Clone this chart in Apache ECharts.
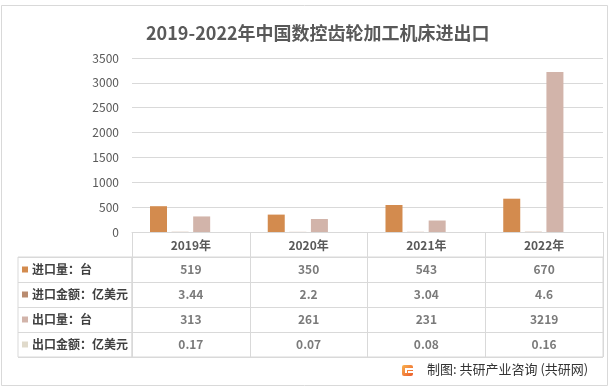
<!DOCTYPE html>
<html>
<head>
<meta charset="utf-8">
<script src="https://cdn.jsdelivr.net/npm/echarts@6/dist/echarts.min.js"></script>
<style>html,body{margin:0;padding:0;background:#fff}#c{width:612px;height:390px}</style>
</head>
<body>
<div id="c"></div>
<script>
var title = '2019-2022年中国数控齿轮加工机床进出口';
var years = ['2019年', '2020年', '2021年', '2022年'];
var seriesNames = ['进口量：台', '进口金额：亿美元', '出口量：台', '出口金额：亿美元'];
var importQty = [519, 350, 543, 670];
var importAmt = [3.44, 2.2, 3.04, 4.6];
var exportQty = [313, 261, 231, 3219];
var exportAmt = [0.17, 0.07, 0.08, 0.16];
var yTicks = [0, 500, 1000, 1500, 2000, 2500, 3000, 3500];
var source = '制图: 共研产业咨询 (共研网)';

var colors = ['#D38B4E', '#B98C70', '#D2B4AA', '#E0DACB'];
var allSeries = [importQty, importAmt, exportQty, exportAmt];
var FONT = '"Noto Sans CJK SC", "Microsoft YaHei", sans-serif';
var GRID_COLOR = '#D9D9D9';

var cellData = [];
allSeries.forEach(function (arr, r) {
  arr.forEach(function (v, c) { cellData.push([c, r, String(v)]); });
});

var rich = {};
colors.forEach(function (col, i) {
  rich['s' + i] = { width: 6, height: 6, backgroundColor: col };
});
rich.t = { fontSize: 12, color: '#404040', fontWeight: 'bold', fontFamily: FONT, padding: [0, 0, 0, 4] };

var chart = echarts.init(document.getElementById('c'), null, { renderer: 'canvas' });
var option = {
  backgroundColor: '#fff',
  animation: false,
  title: {
    text: title, left: 141, top: 19,
    textStyle: { fontSize: 18, fontWeight: 'bold', color: '#595959', fontFamily: FONT }
  },
  grid: [
    { left: 132, right: 9, top: 58, height: 174 },
    { left: 132, right: 9, top: 257, height: 100, show: true, borderColor: GRID_COLOR, borderWidth: 1 },
    { left: 18, width: 114, top: 257, height: 100, show: true, borderColor: GRID_COLOR, borderWidth: 1 }
  ],
  xAxis: [
    {
      gridIndex: 0, type: 'category', data: years,
      axisLine: { show: true, lineStyle: { color: GRID_COLOR } },
      axisTick: { show: true, length: 25, lineStyle: { color: GRID_COLOR } },
      axisLabel: { margin: 7, fontSize: 12, fontWeight: 'bold', color: '#595959', fontFamily: FONT }
    },
    {
      gridIndex: 1, type: 'category', data: years,
      axisLine: { show: false }, axisTick: { show: false }, axisLabel: { show: false },
      splitLine: { show: true, lineStyle: { color: GRID_COLOR } }
    },
    {
      gridIndex: 2, type: 'category', data: [''],
      axisLine: { show: false }, axisTick: { show: false }, axisLabel: { show: false }
    }
  ],
  yAxis: [
    {
      gridIndex: 0, type: 'value', min: 0, max: 3500, interval: 500,
      axisLine: { show: false }, axisTick: { show: false },
      axisLabel: { margin: 13, fontSize: 12, color: '#595959', fontFamily: FONT,
        formatter: function (v) { return yTicks.indexOf(v) >= 0 ? String(v) : ''; } },
      splitLine: { lineStyle: { color: GRID_COLOR } }
    },
    {
      gridIndex: 1, type: 'category', data: seriesNames, inverse: true,
      axisLine: { show: false }, axisTick: { show: false }, axisLabel: { show: false },
      splitLine: { show: true, lineStyle: { color: GRID_COLOR } }
    },
    {
      gridIndex: 2, type: 'category', data: seriesNames, inverse: true,
      axisLine: { show: false }, axisTick: { show: false },
      splitLine: { show: true, lineStyle: { color: GRID_COLOR } },
      axisLabel: {
        inside: true, margin: 4, align: 'left',
        formatter: function (v, i) { return '{s' + i + '|}{t|' + v + '}'; },
        rich: rich
      }
    }
  ],
  series: allSeries.map(function (arr, i) {
    return {
      type: 'bar', name: seriesNames[i], xAxisIndex: 0, yAxisIndex: 0,
      data: arr, barWidth: 17, barGap: '27%',
      itemStyle: { color: colors[i] }
    };
  }).concat([{
    type: 'scatter', xAxisIndex: 1, yAxisIndex: 1, symbolSize: 0,
    data: cellData, silent: true,
    label: {
      show: true, position: 'inside', fontSize: 12, fontWeight: 'bold', color: '#595959', fontFamily: FONT,
      formatter: function (p) { return p.value[2]; }
    }
  }]),
  graphic: [
    { type: 'rect', shape: { x: 1.5, y: 5.5, width: 606, height: 380 }, style: { fill: 'none', stroke: GRID_COLOR, lineWidth: 1 }, z: -1 },
    { type: 'group', left: 402, top: 365, children: [
      { type: 'rect', shape: { x: 0, y: 0, width: 11, height: 11, r: 2 },
        style: { fill: new echarts.graphic.LinearGradient(0, 0, 1, 1, [{ offset: 0, color: '#F9B24F' }, { offset: 1, color: '#EC5B2A' }]) } },
      { type: 'rect', shape: { x: 3, y: 3, width: 8, height: 2 }, style: { fill: '#fff' } },
      { type: 'rect', shape: { x: 3, y: 5, width: 2, height: 3 }, style: { fill: '#fff' } },
      { type: 'rect', shape: { x: 6, y: 6, width: 5, height: 2 }, style: { fill: '#fff' } }
    ] },
    { type: 'text', left: 427, top: 363, style: { text: source, fontSize: 13, fill: '#333', fontFamily: FONT } }
  ]
};
chart.setOption(option);
</script>
</body>
</html>
